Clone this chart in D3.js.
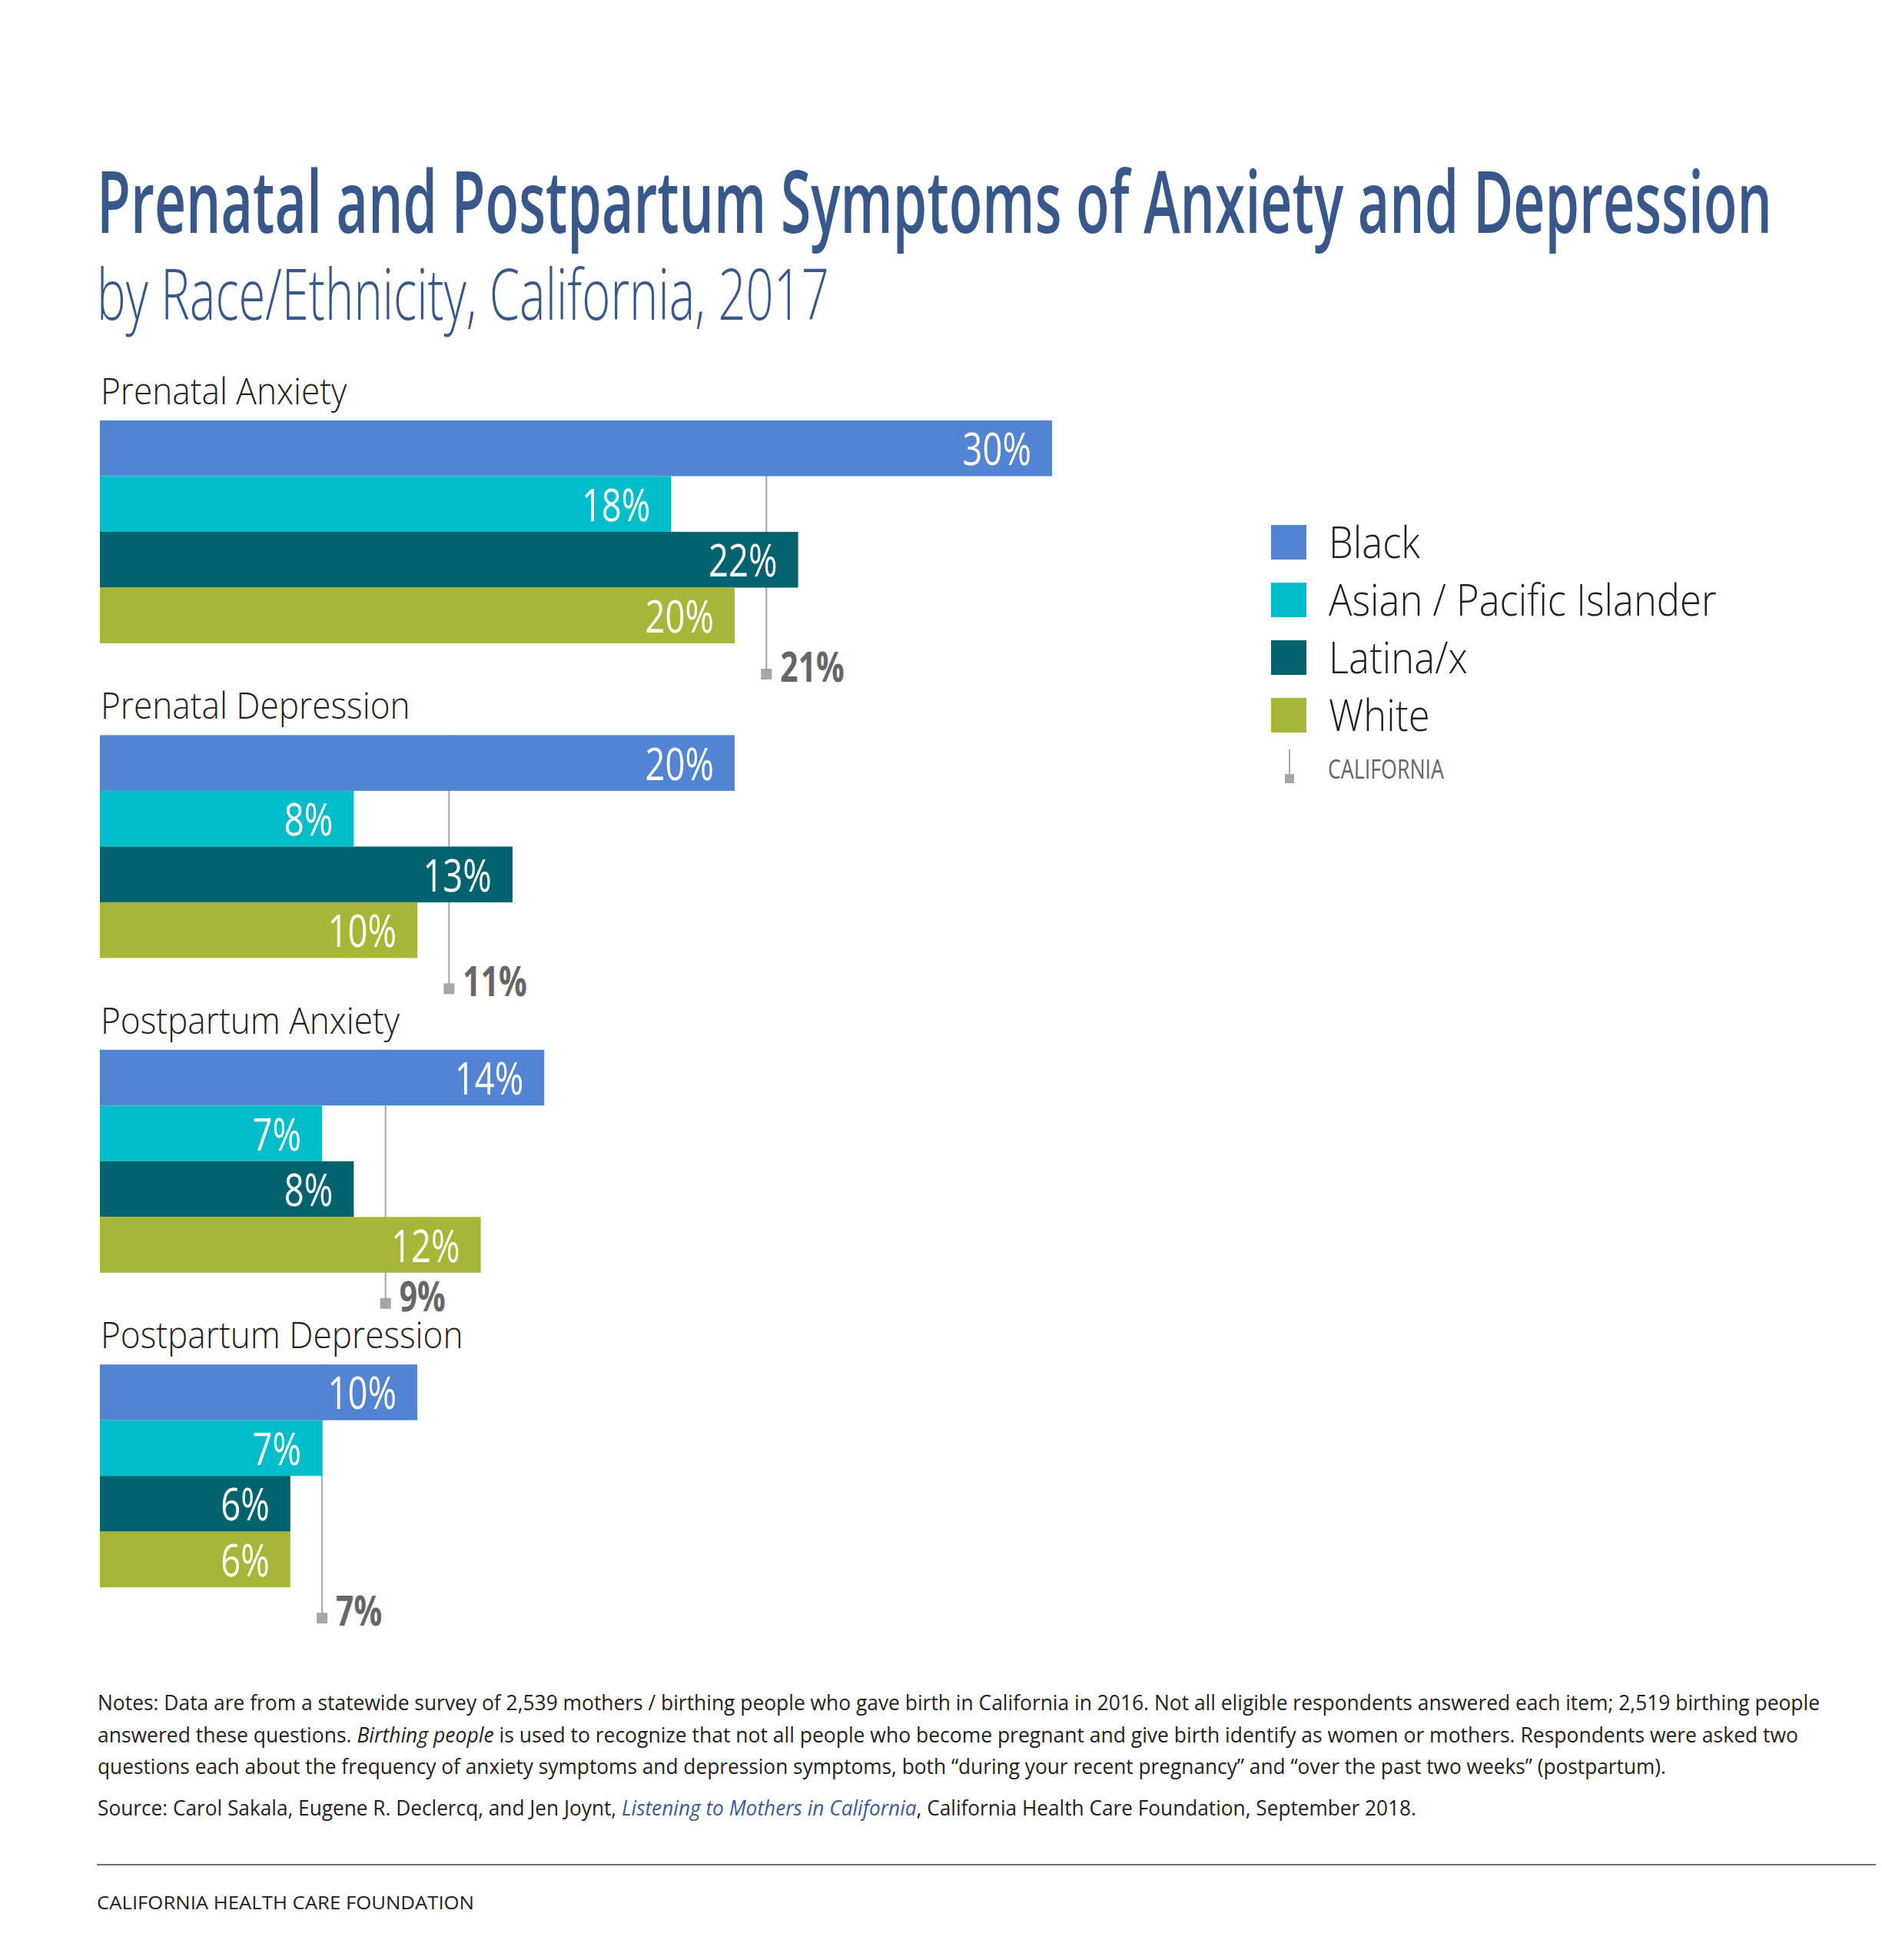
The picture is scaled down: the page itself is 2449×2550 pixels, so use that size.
<!DOCTYPE html>
<html>
<head>
<meta charset="utf-8">
<script src="https://cdn.jsdelivr.net/npm/d3@7"></script>
<style>
  body { margin: 0; background: #fff; }
  svg { display: block; }
  text { font-family: "Open Sans", "Noto Sans", sans-serif; }
</style>
</head>
<body>
<div id="chart"></div>
<script>
// data
var measures = ['Prenatal Anxiety', 'Prenatal Depression', 'Postpartum Anxiety', 'Postpartum Depression'];
var groups = ['Black', 'Asian / Pacific Islander', 'Latina/x', 'White'];
var black = [30, 20, 14, 10];
var asian = [18, 8, 7, 7];
var latina = [22, 13, 8, 6];
var white = [20, 10, 12, 6];
var california = [21, 11, 9, 7];
var colors = ['#5383d3', '#00bec9', '#02636e', '#a8b637'];

var notes = [
  [['Notes: Data are from a statewide survey of 2,539 mothers / birthing people who gave birth in California in 2016. Not all eligible respondents answered each item; 2,519 birthing people', false]],
  [['answered these questions. ', false], ['Birthing people', true], [' is used to recognize that not all people who become pregnant and give birth identify as women or mothers. Respondents were asked two', false]],
  [['questions each about the frequency of anxiety symptoms and depression symptoms, both \u201cduring your recent pregnancy\u201d and \u201cover the past two weeks\u201d (postpartum).', false]]
];
var source = [['Source: Carol Sakala, Eugene R. Declercq, and Jen Joynt, ', false], ['Listening to Mothers in California', true], [', California Health Care Foundation, September 2018.', false]];

var series = [black, asian, latina, white];

// reorganize data
var rows = [];
measures.forEach(function(m, i) {
  groups.forEach(function(g, j) {
    rows.push({measure: m, group: g, value: series[j][i], color: colors[j]});
  });
});

var W = 2449, H = 2550;

var svg = d3.select('#chart').append('svg')
  .attr('width', W).attr('height', H);

// squeeze text to mimic a condensed face
function squeeze(sel, factor) {
  sel.each(function() {
    var w = this.getComputedTextLength();
    d3.select(this).attr('textLength', w * factor).attr('lengthAdjust', 'spacingAndGlyphs');
  });
}
function fitTo(sel, width) {
  sel.attr('textLength', width).attr('lengthAdjust', 'spacingAndGlyphs');
}

// title
svg.append('text')
  .attr('x', 126).attr('y', 303)
  .attr('font-size', 113).attr('font-weight', 600)
  .attr('fill', '#38588c')
  .text('Prenatal and Postpartum Symptoms of Anxiety and Depression')
  .call(fitTo, 2180);

svg.append('text')
  .attr('x', 126).attr('y', 416)
  .attr('font-size', 92).attr('font-weight', 300)
  .attr('fill', '#38588c')
  .text('by Race/Ethnicity, California, 2017')
  .call(fitTo, 953);

// scales
var x = d3.scaleLinear().domain([0, 30]).range([130, 1369]);
var gy = d3.scaleBand().domain(measures).range([547, 547 + 4 * 409.4]);
var by = d3.scaleBand().domain(groups).range([0, 290]);

var g = svg.selectAll('g.measure')
  .data(measures)
  .enter().append('g')
  .attr('class', 'measure')
  .attr('transform', function(d) { return 'translate(0,' + gy(d) + ')'; });

// heading
g.append('text')
  .attr('x', 131).attr('y', -21)
  .attr('font-size', 48).attr('font-weight', 300)
  .attr('fill', '#231f20')
  .text(function(d) { return d; })
  .call(squeeze, 0.92);

// california reference line (behind bars)
g.append('line')
  .attr('x1', function(d, i) { return x(california[i]); })
  .attr('x2', function(d, i) { return x(california[i]); })
  .attr('y1', 0).attr('y2', 326)
  .attr('stroke', '#a6a6a6').attr('stroke-width', 2);

g.append('rect')
  .attr('x', function(d, i) { return x(california[i]) - 7; })
  .attr('y', 323).attr('width', 14).attr('height', 14)
  .attr('fill', '#a6a6a6');

g.append('text')
  .attr('x', function(d, i) { return x(california[i]) + 18; })
  .attr('y', 340)
  .attr('font-size', 53).attr('font-weight', 700)
  .attr('fill', '#666666')
  .text(function(d, i) { return california[i] + '%'; })
  .call(squeeze, 0.77);

// bars
var bar = g.selectAll('g.bar')
  .data(function(m) { return rows.filter(function(r) { return r.measure === m; }); })
  .enter().append('g')
  .attr('class', 'bar');

bar.append('rect')
  .attr('x', x(0))
  .attr('y', function(d) { return by(d.group); })
  .attr('width', function(d) { return x(d.value) - x(0); })
  .attr('height', by.bandwidth())
  .attr('fill', function(d) { return d.color; });

bar.append('text')
  .attr('x', function(d) { return x(d.value) - 27; })
  .attr('y', function(d) { return by(d.group) + by.bandwidth() / 2 + 22; })
  .attr('text-anchor', 'end')
  .attr('font-size', 59)
  .attr('fill', '#ffffff')
  .text(function(d) { return d.value + '%'; })
  .call(squeeze, 0.77);

// legend
var leg = svg.append('g').attr('transform', 'translate(1654,683)');
var li = leg.selectAll('g.item')
  .data(groups)
  .enter().append('g')
  .attr('class', 'item')
  .attr('transform', function(d, i) { return 'translate(0,' + i * 75 + ')'; });

li.append('rect')
  .attr('width', 46).attr('height', 45)
  .attr('fill', function(d, i) { return colors[i]; });

li.append('text')
  .attr('x', 75).attr('y', 43)
  .attr('font-size', 57).attr('font-weight', 300)
  .attr('fill', '#231f20')
  .text(function(d) { return d; })
  .call(squeeze, 0.89);

var caLeg = leg.append('g').attr('transform', 'translate(0,' + 4 * 75 + ')');
caLeg.append('line')
  .attr('x1', 24).attr('x2', 24).attr('y1', -8).attr('y2', 26)
  .attr('stroke', '#a6a6a6').attr('stroke-width', 2);
caLeg.append('rect')
  .attr('x', 18).attr('y', 24).attr('width', 12).attr('height', 12)
  .attr('fill', '#a6a6a6');
caLeg.append('text')
  .attr('x', 74).attr('y', 30)
  .attr('font-size', 35).attr('font-weight', 400)
  .attr('fill', '#666666')
  .text('CALIFORNIA')
  .call(fitTo, 151);

// notes
var noteWidths = [2241, 2213, 2041];
var noteY = [2225, 2267, 2308];
notes.forEach(function(parts, i) {
  var t = svg.append('text')
    .attr('x', 127).attr('y', noteY[i])
    .attr('font-size', 28).attr('fill', '#231f20');
  parts.forEach(function(p) {
    t.append('tspan').attr('font-style', p[1] ? 'italic' : 'normal').text(p[0]);
  });
  t.call(fitTo, noteWidths[i]);
});

var src = svg.append('text')
  .attr('x', 127).attr('y', 2362)
  .attr('font-size', 28).attr('fill', '#231f20');
source.forEach(function(p) {
  src.append('tspan')
    .attr('font-style', p[1] ? 'italic' : 'normal')
    .attr('fill', p[1] ? '#3b5a98' : '#231f20')
    .text(p[0]);
});
src.call(fitTo, 1716);

// footer
svg.append('line')
  .attr('x1', 126).attr('x2', 2441)
  .attr('y1', 2426).attr('y2', 2426)
  .attr('stroke', '#6d6e71').attr('stroke-width', 2);

svg.append('text')
  .attr('x', 126).attr('y', 2484)
  .attr('font-size', 24).attr('fill', '#231f20')
  .text('CALIFORNIA HEALTH CARE FOUNDATION')
  .call(fitTo, 491);
</script>
</body>
</html>
